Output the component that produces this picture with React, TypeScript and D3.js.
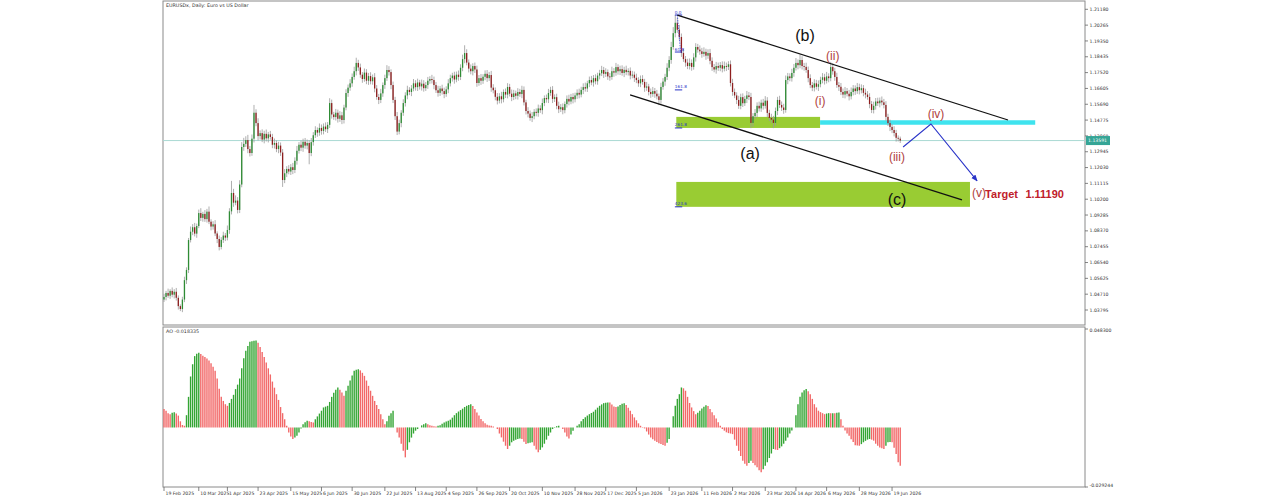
import React from "react";
import * as d3 from "d3";

// ---------- DATA ----------
const firstOpen = 1.044;
const closes = [
  1.0455, 1.0478, 1.0462, 1.049, 1.0468, 1.0485, 1.045, 1.0402, 1.0385, 1.044,
  1.0552, 1.0611, 1.0784, 1.0832, 1.0858, 1.0821, 1.0865, 1.094, 1.0912, 1.0935,
  1.0905, 1.0948, 1.089, 1.0862, 1.0875, 1.0822, 1.079, 1.0744, 1.0785, 1.081,
  1.0798, 1.0842, 1.095, 1.1056, 1.1, 1.1012, 1.0958, 1.1105, 1.1322, 1.134,
  1.1362, 1.131, 1.1287, 1.137, 1.152, 1.146, 1.1385, 1.1402, 1.1365, 1.1398,
  1.1372, 1.1395, 1.138, 1.1335, 1.1345, 1.131, 1.133, 1.129, 1.1131, 1.117,
  1.1195, 1.118, 1.1205, 1.1189, 1.1242, 1.13, 1.1335, 1.1318, 1.1352, 1.133,
  1.1345, 1.1287, 1.135, 1.139, 1.142, 1.1405, 1.1432, 1.1415, 1.144, 1.1425,
  1.145, 1.1576, 1.151, 1.1495, 1.152, 1.1485, 1.1505, 1.1478, 1.155, 1.1634,
  1.1665, 1.169, 1.1727, 1.176, 1.1808, 1.1782, 1.174, 1.1715, 1.1752, 1.1705,
  1.1732, 1.1702, 1.1725, 1.166, 1.1611, 1.1594, 1.1632, 1.168, 1.172, 1.1767,
  1.1755, 1.168, 1.1594, 1.15, 1.1411, 1.146, 1.152, 1.1576, 1.162, 1.1652,
  1.164, 1.166, 1.169, 1.1668, 1.1695, 1.1672, 1.1688, 1.1662, 1.168, 1.1705,
  1.1715, 1.1709, 1.168, 1.165, 1.1635, 1.166, 1.1645, 1.1628, 1.1655, 1.169,
  1.172, 1.1735, 1.1712, 1.174, 1.1727, 1.178, 1.183, 1.1865, 1.181, 1.1775,
  1.176, 1.179, 1.177, 1.1692, 1.172, 1.1705, 1.1728, 1.1745, 1.172, 1.1738,
  1.1665, 1.165, 1.1612, 1.159, 1.1615, 1.1598, 1.164, 1.1625, 1.1669, 1.163,
  1.1611, 1.1632, 1.1618, 1.164, 1.1628, 1.1652, 1.158, 1.153, 1.1515, 1.149,
  1.15, 1.1525, 1.1519, 1.1545, 1.1535, 1.1576, 1.1605, 1.1598, 1.1634, 1.1652,
  1.16, 1.161, 1.156, 1.154, 1.1552, 1.1535, 1.157, 1.16, 1.1585, 1.1611,
  1.1598, 1.162, 1.1635, 1.1625, 1.1652, 1.1668, 1.166, 1.169, 1.1709, 1.1695,
  1.172, 1.1702, 1.1735, 1.1748, 1.1767, 1.1745, 1.1755, 1.173, 1.1727, 1.176,
  1.1752, 1.1784, 1.176, 1.1772, 1.175, 1.1768, 1.1755, 1.1762, 1.1735, 1.174,
  1.1722, 1.1709, 1.169, 1.1715, 1.1698, 1.1665, 1.1672, 1.164, 1.1628, 1.1645,
  1.163, 1.1615, 1.1594, 1.1669, 1.17, 1.1727, 1.178, 1.1825, 1.19, 1.198,
  1.204, 1.2, 1.1958, 1.1865, 1.183, 1.181, 1.179, 1.1808, 1.1785, 1.184,
  1.19, 1.1885, 1.1875, 1.186, 1.1872, 1.185, 1.1865, 1.182, 1.1784, 1.177,
  1.179, 1.178, 1.1795, 1.1775, 1.179, 1.1785, 1.18, 1.1692, 1.164, 1.162,
  1.1594, 1.156, 1.161, 1.1575, 1.16, 1.162, 1.1611, 1.1461, 1.15, 1.1519,
  1.156, 1.1545, 1.1578, 1.156, 1.159, 1.1519, 1.149, 1.148, 1.1461, 1.153,
  1.1594, 1.1565, 1.155, 1.1536, 1.1709, 1.173, 1.172, 1.175, 1.178, 1.1808,
  1.1795, 1.1825, 1.179, 1.1785, 1.1767, 1.172, 1.168, 1.1665, 1.169, 1.167,
  1.1685, 1.171, 1.1725, 1.1705, 1.173, 1.172, 1.1784, 1.176, 1.1727, 1.168,
  1.167, 1.164, 1.1625, 1.1645, 1.163, 1.1615, 1.164, 1.166, 1.1645, 1.1668,
  1.165, 1.1662, 1.1635, 1.1625, 1.1611, 1.157, 1.1536, 1.156, 1.1585, 1.1575,
  1.159, 1.158, 1.1565, 1.1496, 1.146, 1.1438, 1.142, 1.1403, 1.1375, 1.137, 1.1359,
];
// wick lengths in pips above / below the body
const wickUp = [
  18, 12, 25, 10, 20, 15, 22, 14, 10, 16, 20, 15, 12, 30, 18, 25, 14, 20, 28, 12,
  22, 16, 30, 14, 18, 24, 12, 20, 16, 22, 15, 26, 18, 70, 24, 30, 20, 25, 28, 35,
  22, 30, 18, 24, 45, 20, 28, 16, 22, 18, 25, 14, 20, 18, 26, 15, 22, 18, 20, 24,
  16, 22, 18, 25, 20, 28, 15, 24, 18, 22, 20, 16, 24, 18, 22, 15, 26, 20, 18, 24,
  16, 28, 20, 15, 22, 18, 24, 20, 16, 22, 18, 24, 20, 26, 30, 18, 22, 15, 24, 20,
  18, 22, 16, 24, 20, 18, 26, 15, 20, 28, 22, 16, 20, 18, 24, 20, 15, 22, 18, 24,
  16, 20, 25, 18, 22, 15, 24, 20, 18, 22, 16, 24, 20, 18, 26, 15, 22, 20, 18, 24,
  20, 16, 22, 18, 24, 20, 26, 45, 22, 18, 24, 16, 20, 22, 18, 24, 15, 20, 22, 18,
  24, 20, 16, 22, 18, 26, 15, 20, 22, 18, 24, 20, 16, 22, 18, 24, 20, 15, 22, 18,
  24, 16, 20, 22, 18, 26, 15, 20, 24, 18, 22, 16, 20, 24, 18, 22, 15, 20, 24, 18,
  22, 16, 20, 24, 18, 22, 26, 15, 20, 24, 18, 22, 16, 20, 24, 18, 22, 15, 20, 26,
  18, 24, 16, 20, 22, 18, 24, 15, 20, 22, 18, 24, 16, 20, 22, 18, 26, 15, 20, 24,
  18, 22, 16, 24, 20, 18, 26, 22, 30, 35, 45, 30, 28, 20, 24, 18, 22, 26, 20, 24,
  22, 18, 24, 20, 26, 18, 22, 24, 20, 18, 24, 20, 18, 22, 26, 20, 18, 22, 24, 20,
  18, 24, 20, 22, 18, 26, 20, 24, 18, 22, 20, 24, 18, 22, 26, 20, 18, 24, 22, 20,
  18, 24, 20, 22, 26, 20, 18, 24, 22, 28, 20, 30, 22, 18, 24, 20, 22, 18, 24, 20,
  22, 18, 24, 20, 26, 18, 30, 22, 20, 24, 18, 22, 20, 24, 18, 22, 26, 20, 18, 24,
  20, 22, 18, 24, 20, 22, 18, 24, 20, 22, 18, 24, 20, 22, 18, 20, 16, 22, 18, 14, 12,
];
const wickDn = [
  14, 20, 12, 18, 15, 22, 16, 20, 12, 18, 15, 22, 18, 14, 20, 16, 24, 12, 18, 22,
  16, 20, 14, 22, 18, 15, 24, 20, 14, 18, 20, 16, 22, 18, 24, 15, 20, 18, 16, 22,
  18, 24, 20, 16, 22, 18, 25, 20, 15, 22, 18, 24, 16, 20, 22, 18, 24, 20, 40, 18,
  22, 16, 20, 24, 18, 22, 16, 20, 24, 18, 22, 65, 18, 20, 16, 24, 18, 22, 20, 16,
  22, 18, 24, 16, 20, 22, 18, 24, 20, 16, 22, 18, 20, 16, 24, 20, 18, 22, 16, 20,
  24, 18, 20, 22, 16, 24, 18, 20, 22, 16, 20, 24, 18, 22, 20, 16, 24, 18, 20, 22,
  18, 24, 16, 20, 22, 18, 24, 20, 16, 22, 18, 20, 24, 16, 22, 18, 20, 24, 16, 22,
  18, 20, 24, 16, 22, 18, 20, 24, 16, 22, 18, 24, 20, 22, 16, 24, 18, 20, 22, 16,
  24, 18, 20, 22, 16, 24, 18, 20, 22, 16, 24, 18, 20, 22, 16, 24, 18, 20, 22, 16,
  24, 18, 20, 22, 16, 24, 18, 20, 22, 16, 24, 18, 20, 22, 16, 24, 18, 20, 22, 16,
  24, 18, 20, 22, 16, 24, 18, 20, 22, 16, 24, 18, 20, 22, 16, 24, 18, 20, 22, 16,
  24, 18, 20, 22, 16, 24, 18, 20, 22, 16, 24, 18, 20, 22, 16, 24, 18, 20, 22, 16,
  24, 18, 30, 22, 16, 24, 18, 20, 22, 16, 24, 18, 20, 22, 16, 24, 18, 20, 22, 16,
  24, 18, 20, 22, 16, 24, 18, 20, 22, 16, 24, 18, 20, 22, 16, 24, 18, 20, 22, 16,
  24, 18, 20, 22, 16, 24, 18, 30, 22, 16, 24, 18, 20, 22, 16, 24, 18, 20, 30, 16,
  24, 18, 20, 22, 16, 24, 18, 20, 22, 16, 24, 18, 20, 22, 16, 24, 18, 20, 22, 16,
  24, 18, 20, 22, 16, 24, 18, 20, 22, 16, 24, 18, 20, 22, 16, 24, 18, 20, 22, 16,
  24, 18, 20, 22, 16, 24, 18, 20, 22, 16, 24, 18, 20, 22, 16, 24, 18, 20, 22, 16, 14,
];
const aoFirstPrev = 0.0095;
const aoValues = [
  0.009, 0.0082, 0.007, 0.0065, 0.0072, 0.0074, 0.0068, 0.0058, 0.003, 0.0012,
  0.0008, 0.006, 0.015, 0.025, 0.031, 0.035, 0.0362, 0.0367, 0.036, 0.0352,
  0.0345, 0.0338, 0.0328, 0.0315, 0.0298, 0.0278, 0.024, 0.019, 0.015, 0.013,
  0.0114, 0.0106, 0.012, 0.014, 0.016, 0.0188, 0.021, 0.024, 0.029, 0.034,
  0.0376, 0.04, 0.042, 0.0423, 0.0425, 0.0426, 0.0416, 0.0395, 0.037, 0.0345,
  0.0318, 0.029, 0.026, 0.0225, 0.0195, 0.0163, 0.0135, 0.01, 0.007, 0.004,
  0.0008, -0.0025, -0.0045, -0.0057, -0.005, -0.0041, -0.0025, -0.0005, 0.0016, 0.0025,
  0.0033, 0.003, 0.0026, 0.0024, 0.004, 0.0054, 0.0068, 0.0082, 0.0098, 0.0102,
  0.0106, 0.0125, 0.015, 0.017, 0.0185, 0.0196, 0.0185, 0.0171, 0.0155, 0.018,
  0.0204, 0.023, 0.0255, 0.0278, 0.0283, 0.0286, 0.028, 0.0268, 0.0253, 0.023,
  0.0204, 0.018, 0.0155, 0.013, 0.011, 0.009, 0.0065, 0.004, 0.0016, 0.003,
  0.0057, 0.007, 0.0082, 0.0, -0.0025, -0.0049, -0.008, -0.0115, -0.0147, -0.011,
  -0.0073, -0.005, -0.003, -0.0016, -0.0008, 0.0, 0.001, 0.0016, 0.002, 0.0015,
  0.0011, 0.0008, 0.0006, 0.0005, 0.0008, 0.0011, 0.0018, 0.0024, 0.0029, 0.0033,
  0.0038, 0.0048, 0.006, 0.007, 0.0078, 0.0085, 0.0092, 0.01, 0.0106, 0.011,
  0.0114, 0.0105, 0.009, 0.0073, 0.0058, 0.0041, 0.003, 0.002, 0.0013, 0.001,
  0.0008, 0.0004, 0.0, -0.0008, -0.003, -0.0049, -0.007, -0.009, -0.0106, -0.009,
  -0.0073, -0.0065, -0.006, -0.0057, -0.0055, -0.0057, -0.007, -0.0082, -0.0078, -0.0075,
  -0.0073, -0.009, -0.0108, -0.0122, -0.011, -0.0098, -0.008, -0.006, -0.0041, -0.0025,
  -0.0008, 0.0002, 0.0006, 0.0008, 0.0, -0.0008, -0.0025, -0.0045, -0.0054, -0.0035,
  -0.0016, 0.0, 0.0008, 0.0016, 0.003, 0.0041, 0.005, 0.0058, 0.0065, 0.0071,
  0.0077, 0.0087, 0.0097, 0.0106, 0.0113, 0.0119, 0.0121, 0.0122, 0.0122, 0.0112,
  0.0103, 0.01, 0.0103, 0.011, 0.0116, 0.0119, 0.011, 0.0096, 0.0082, 0.0065,
  0.0049, 0.0035, 0.002, 0.0008, 0.0002, -0.0005, -0.002, -0.0035, -0.0049, -0.0058,
  -0.0065, -0.0072, -0.0078, -0.0082, -0.0086, -0.009, -0.0075, -0.0057, 0.0, 0.0055,
  0.0106, 0.014, 0.0163, 0.0196, 0.0192, 0.018, 0.015, 0.012, 0.0098, 0.008,
  0.0065, 0.0072, 0.0082, 0.0093, 0.0102, 0.0109, 0.0105, 0.009, 0.0075, 0.006,
  0.0044, 0.0025, 0.0008, -0.0008, -0.0016, -0.0024, -0.0028, -0.003, -0.0033, -0.006,
  -0.009, -0.0115, -0.014, -0.0163, -0.0178, -0.0188, -0.0175, -0.0163, -0.0175, -0.0186,
  -0.0196, -0.021, -0.022, -0.0205, -0.0188, -0.0171, -0.015, -0.0128, -0.0106, -0.0109,
  -0.0111, -0.0102, -0.0093, -0.008, -0.0065, -0.0049, -0.003, -0.0015, 0.0, 0.006,
  0.0114, 0.015, 0.0171, 0.0182, 0.0188, 0.0178, 0.0163, 0.014, 0.0114, 0.0098,
  0.0082, 0.0075, 0.007, 0.0065, 0.0068, 0.007, 0.0069, 0.007, 0.007, 0.0072,
  0.0073, 0.004, 0.0008, -0.0015, -0.003, -0.0041, -0.0058, -0.0072, -0.0087, -0.0089,
  -0.009, -0.0082, -0.0073, -0.0066, -0.006, -0.0057, -0.006, -0.0065, -0.008, -0.009,
  -0.0098, -0.0102, -0.0106, -0.009, -0.0073, -0.0072, -0.0073, -0.01, -0.0131, -0.0171, -0.0188,
];
const priceTicks = [
  1.2118, 1.20265, 1.1935, 1.18435, 1.1752, 1.16605, 1.1569, 1.14775, 1.1386, 1.12945,
  1.1203, 1.11115, 1.102, 1.09285, 1.0837, 1.07455, 1.0654, 1.05625, 1.0471, 1.03795,
];
const currentPrice = 1.13591;
const aoTicks = [0.0483, -0.029244];
const aoLast = -0.018335;
const dateLabels = [
  "19 Feb 2025", "10 Mar 2025", "1 Apr 2025", "23 Apr 2025", "15 May 2025", "6 Jun 2025",
  "30 Jun 2025", "22 Jul 2025", "13 Aug 2025", "4 Sep 2025", "26 Sep 2025", "20 Oct 2025",
  "10 Nov 2025", "28 Nov 2025", "17 Dec 2025", "5 Jan 2026", "23 Jan 2026", "11 Feb 2026",
  "2 Mar 2026", "23 Mar 2026", "14 Apr 2026", "6 May 2026", "28 May 2026", "19 Jun 2026",
];
const dateIndex = [
  0, 17, 31, 46, 62, 77, 92, 108, 123, 138, 153, 169, 185, 201, 216, 231, 247, 263,
  278, 294, 309, 324, 340, 356,
];

// annotations (bar index, price)
const upperChannel: [number, number][] = [[251, 1.2085], [412.7, 1.1478]];
const lowerChannel: [number, number][] = [[227.9, 1.1623], [390.2, 1.1016]];
const zones = [
  { i0: 250.5, i1: 320.8, p0: 1.1496, p1: 1.1432 },
  { i0: 250.5, i1: 394.1, p0: 1.112, p1: 1.0976 },
];
const cyanBand = { i0: 320.8, i1: 426, p: 1.1463 };
const arrowPath: [number, number][] = [[361.4, 1.1322], [375, 1.1455], [397.6, 1.1126]];
const fibLevels = [
  { label: "0.0", p: 1.2085 },
  { label: "61.8", p: 1.1871 },
  { label: "161.8", p: 1.1652 },
  { label: "261.8", p: 1.1432 },
  { label: "423.6", p: 1.0976 },
];
const waveLabels = [
  { t: "(b)", i: 313.4, p: 1.1958, c: "#111", s: 16 },
  { t: "(a)", i: 286.6, p: 1.1276, c: "#111", s: 16 },
  { t: "(c)", i: 358.4, p: 1.101, c: "#111", s: 16 },
  { t: "(ii)", i: 327, p: 1.1843, c: "#b0413e", s: 12 },
  { t: "(i)", i: 320.8, p: 1.1582, c: "#b0413e", s: 12 },
  { t: "(iv)", i: 377.5, p: 1.1507, c: "#b0413e", s: 12 },
  { t: "(iii)", i: 358.4, p: 1.1259, c: "#b0413e", s: 12 },
  { t: "(v)", i: 398.5, p: 1.1051, c: "#b0413e", s: 12 },
];
const targetText = { label: "Target", value: "1.11190", i: 401.5, iv: 421.2, p: 1.1045 };

// ---------- CHART ----------
export default function App() {
  const W = 1274, H = 500;
  const L = 163, R = 1085, T = 1, MB = 325, AT = 327, AB = 487;
  const x = d3.scaleLinear().domain([0, 450]).range([164, 1084.3]);
  const y = d3.scaleLinear().domain([1.03795, 1.2118]).range([310, 9.3]);
  const ya = d3.scaleLinear().domain([-0.029244, 0.0483]).range([AB, AT + 2]);

  const candles = closes.map((c, i) => {
    const o = i === 0 ? firstOpen : closes[i - 1];
    const hi = Math.max(o, c) + wickUp[i] * 0.0001;
    const lo = Math.min(o, c) - wickDn[i] * 0.0001;
    return { i, o, c, hi, lo };
  });

  const line = d3.line<[number, number]>().x((d) => x(d[0])).y((d) => y(d[1]));
  const font = "DejaVu Sans, Arial, sans-serif";
  const axisFont = 4.6;

  return (
    <svg width={W} height={H} style={{ position: "absolute", left: 0, top: 0, background: "#fff" }}
      xmlns="http://www.w3.org/2000/svg">
      <defs>
        <clipPath id="mainClip"><rect x={L} y={T} width={R - L} height={MB - T} /></clipPath>
        <clipPath id="aoClip"><rect x={L} y={AT} width={R - L} height={AB - AT} /></clipPath>
        <marker id="arr" viewBox="0 0 10 10" refX="9" refY="5" markerWidth="6" markerHeight="6" orient="auto">
          <path d="M0,1 L10,5 L0,9 z" fill="#2a34c8" />
        </marker>
      </defs>

      {/* frames */}
      <rect x={L} y={T} width={R - L} height={MB - T} fill="none" stroke="#8a8a8a" strokeWidth={1} />
      <rect x={L} y={AT} width={R - L} height={AB - AT} fill="none" stroke="#8a8a8a" strokeWidth={1} />

      <text x={166} y={7} fontSize={4.8} fontFamily={font} fill="#333">EURUSDx, Daily:  Euro vs US Dollar</text>

      <g clipPath="url(#mainClip)">
        {/* current price line */}
        <line x1={L} x2={R} y1={y(currentPrice)} y2={y(currentPrice)} stroke="#a9d9d3" strokeWidth={1} />

        {/* zones */}
        {zones.map((z, k) => (
          <rect key={k} x={x(z.i0)} y={y(z.p0)} width={x(z.i1) - x(z.i0)} height={y(z.p1) - y(z.p0)} fill="#99cc33" />
        ))}
        <line x1={x(cyanBand.i0)} x2={x(cyanBand.i1)} y1={y(cyanBand.p)} y2={y(cyanBand.p)} stroke="#3fe3ee" strokeWidth={4.5} />

        {/* candles */}
        {candles.map((d) => (
          <line key={"w" + d.i} x1={x(d.i)} x2={x(d.i)} y1={y(d.hi)} y2={y(d.lo)} stroke="#9a9a9a" strokeWidth={0.8} />
        ))}
        {candles.map((d) => {
          const top = y(Math.max(d.o, d.c));
          const h = Math.max(0.9, y(Math.min(d.o, d.c)) - top);
          return (
            <rect key={"b" + d.i} x={x(d.i) - 0.65} y={top} width={1.3} height={h}
              fill={d.c >= d.o ? "#2f8c35" : "#8e1f1f"} />
          );
        })}

        {/* fib tool */}
        <line x1={x(251)} y1={y(fibLevels[0].p)} x2={x(252.6)} y2={y(fibLevels[1].p)} stroke="#3a46d8" strokeWidth={0.8} strokeDasharray="1.5,1" />
        {fibLevels.map((f) => (
          <g key={f.label}>
            <line x1={x(249.8)} x2={x(253.4)} y1={y(f.p)} y2={y(f.p)} stroke="#2a34c8" strokeWidth={1} />
            <text x={x(249.8)} y={y(f.p) - 1.5} fontSize={4.2} fontFamily={font} fill="#2a34c8">{f.label}</text>
          </g>
        ))}

        {/* channel */}
        <path d={line(upperChannel) || ""} stroke="#111" strokeWidth={1.3} fill="none" />
        <path d={line(lowerChannel) || ""} stroke="#111" strokeWidth={1.3} fill="none" />

        {/* projected path */}
        <path d={line(arrowPath) || ""} stroke="#2a34c8" strokeWidth={1.1} fill="none" markerEnd="url(#arr)" />

        {waveLabels.map((w) => (
          <text key={w.t + w.i} x={x(w.i)} y={y(w.p)} fontSize={w.s} fontFamily="Liberation Sans, Arial, sans-serif"
            fill={w.c} textAnchor="middle" dominantBaseline="middle">{w.t}</text>
        ))}
        <text x={x(targetText.i)} y={y(targetText.p)} fontSize={11} fontWeight="bold" fontFamily="Liberation Sans, Arial, sans-serif"
          fill="#c0202a" dominantBaseline="middle">{targetText.label}</text>
        <text x={x(targetText.iv)} y={y(targetText.p)} fontSize={11} fontWeight="bold" fontFamily="Liberation Sans, Arial, sans-serif"
          fill="#c0202a" dominantBaseline="middle">{targetText.value}</text>
      </g>

      {/* price axis */}
      {priceTicks.map((p) => (
        <g key={p}>
          <line x1={R} x2={R + 3} y1={y(p)} y2={y(p)} stroke="#666" strokeWidth={0.8} />
          <text x={R + 4.5} y={y(p) + 1.6} fontSize={axisFont} fontFamily={font} fill="#333">{p.toFixed(5)}</text>
        </g>
      ))}
      <rect x={R + 1} y={y(currentPrice) - 4.5} width={24} height={9} fill="#35a596" />
      <text x={R + 3} y={y(currentPrice) + 1.6} fontSize={axisFont} fontFamily={font} fill="#fff">{currentPrice.toFixed(5)}</text>

      {/* AO panel */}
      <text x={166} y={333} fontSize={4.8} fontFamily={font} fill="#333">{"AO " + aoLast.toFixed(6)}</text>
      <g clipPath="url(#aoClip)">
        {aoValues.map((v, i) => {
          const prev = i === 0 ? aoFirstPrev : aoValues[i - 1];
          const up = v > prev;
          return (
            <line key={i} x1={x(i)} x2={x(i)} y1={ya(0)} y2={ya(v)} stroke={up ? "#34a534" : "#f26868"} strokeWidth={1.4} />
          );
        })}
      </g>
      {aoTicks.map((v, k) => (
        <g key={v}>
          <line x1={R} x2={R + 3} y1={ya(v)} y2={ya(v)} stroke="#666" strokeWidth={0.8} />
          <text x={R + 4.5} y={ya(v) + (k === 0 ? 3 : 0)} fontSize={axisFont} fontFamily={font} fill="#333">{v.toFixed(6)}</text>
        </g>
      ))}

      {/* date axis */}
      {dateLabels.map((d, k) => (
        <g key={d}>
          <line x1={x(dateIndex[k])} x2={x(dateIndex[k])} y1={AB} y2={AB + 4} stroke="#666" strokeWidth={0.8} />
          <text x={x(dateIndex[k]) + 1.5} y={AB + 8} fontSize={axisFont} fontFamily={font} fill="#333">{d}</text>
        </g>
      ))}
    </svg>
  );
}
